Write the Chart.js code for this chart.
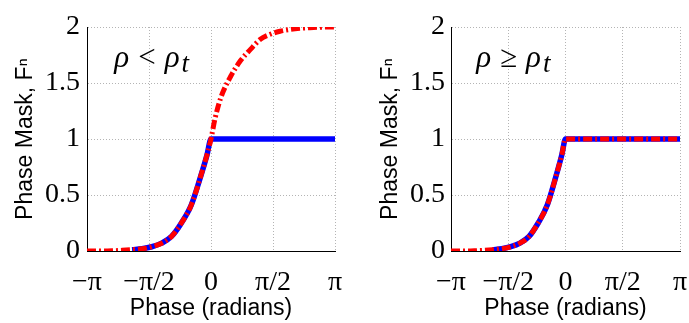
<!DOCTYPE html>
<html>
<head>
<meta charset="utf-8">
<script src="https://cdn.jsdelivr.net/npm/chart.js@4"></script>
<style>
  body { margin: 0; background: #fff; }
  .panel { position: absolute; top: 0; }
</style>
</head>
<body>
<div class="panel" style="left:0"><canvas id="maskLow" width="345" height="323"></canvas></div>
<div class="panel" style="left:345px"><canvas id="maskHigh" width="344" height="323"></canvas></div>
<script>
// phase samples (radians)
var phase = [-3.1416, -2.75, -2.5, -2.25, -2.0, -1.75, -1.5, -1.25, -1.0, -0.75, -0.5, -0.25, -0.1, 0,
             0.1, 0.25, 0.5, 0.75, 1.0, 1.25, 1.5, 1.75, 2.0, 2.25, 2.5, 2.75, 3.1416];

// smooth mask, keeps rising up to 2
var maskSmooth = [0, 0, 0.002, 0.006, 0.012, 0.02, 0.038, 0.07, 0.13, 0.25, 0.41, 0.68, 0.86, 1.0,
                  1.18, 1.37, 1.56, 1.70, 1.80, 1.89, 1.935, 1.962, 1.978, 1.988, 1.994, 1.998, 2.0];

// clipped mask, flat at 1 for positive phase
var maskClip = [0, 0, 0.002, 0.006, 0.012, 0.02, 0.038, 0.07, 0.13, 0.25, 0.41, 0.68, 0.86, 1.0,
                1, 1, 1, 1, 1, 1, 1, 1, 1, 1, 1, 1, 1];

// blue trace only starts near -2 rad
var clipStart = -2.0;

var phaseTicks = [-Math.PI, -Math.PI / 2, 0, Math.PI / 2, Math.PI];
var phaseTickLabels = ['\u2212\u03c0', '\u2212\u03c0/2', '0', '\u03c0/2', '\u03c0'];
var maskTicks = [0, 0.5, 1, 1.5, 2];
var maskTickLabels = ['0', '0.5', '1', '1.5', '2'];

function toPoints(ys, fromX) {
  return phase.map(function (x, i) {
    return { x: x, y: (fromX !== undefined && x < fromX) ? null : ys[i] };
  });
}

// draws the rho condition text in data coordinates
var rhoLabel = {
  id: 'rhoLabel',
  afterDatasetsDraw: function (chart, args, opts) {
    var ctx = chart.ctx;
    var x = chart.scales.x.getPixelForValue(opts.at[0]);
    var y = chart.scales.y.getPixelForValue(opts.at[1]);
    ctx.save();
    ctx.fillStyle = '#000';
    ctx.textBaseline = 'alphabetic';
    opts.parts.forEach(function (p) {
      x += p.gap || 0;
      ctx.font = p.font;
      ctx.fillText(p.text, x, y + (p.dy || 0));
      x += ctx.measureText(p.text).width;
    });
    ctx.restore();
  }
};

var gridColor = '#b4b4b4';
var tickFont = { family: '"Liberation Serif"', size: 28 };
var titleFont = { family: '"Liberation Sans"', size: 23 };

function makeChart(id, cfg) {
  return new Chart(document.getElementById(id), {
    type: 'line',
    data: {
      datasets: [{
        data: toPoints(cfg.red),
        borderColor: '#ff0000',
        borderWidth: 5,
        borderDash: [9, 3, 2, 3],
        borderCapStyle: 'butt',
        pointRadius: 0,
        cubicInterpolationMode: 'monotone'
      }, {
        data: toPoints(cfg.blue, clipStart),
        borderColor: '#0000ff',
        borderWidth: 5.5,
        pointRadius: 0,
        spanGaps: false,
        cubicInterpolationMode: 'monotone'
      }]
    },
    options: {
      responsive: false,
      animation: false,
      events: [],
      layout: { padding: { top: 27, right: cfg.padRight, left: 0, bottom: 0 } },
      plugins: {
        legend: { display: false },
        tooltip: { enabled: false },
        rhoLabel: { at: [-2.45, 1.64], parts: cfg.label }
      },
      scales: {
        x: {
          type: 'linear',
          min: -Math.PI,
          max: Math.PI,
          afterBuildTicks: function (scale) {
            scale.ticks = phaseTicks.map(function (v) { return { value: v }; });
          },
          afterFit: function (scale) {
            scale.height = 72;
            scale.paddingLeft = 0;
            scale.paddingRight = 0;
          },
          ticks: {
            autoSkip: false,
            maxRotation: 0,
            padding: 15,
            color: '#000',
            font: tickFont,
            callback: function (v, i) { return phaseTickLabels[i]; }
          },
          grid: { color: gridColor, lineWidth: 1, drawTicks: false },
          border: { display: true, color: '#000', width: 1, dash: [1, 2] },
          title: {
            display: true,
            text: 'Phase (radians)',
            color: '#000',
            font: titleFont,
            padding: { top: 0, bottom: 1 }
          }
        },
        y: {
          min: 0,
          max: 2,
          afterBuildTicks: function (scale) {
            scale.ticks = maskTicks.map(function (v) { return { value: v }; });
          },
          afterFit: function (scale) {
            scale.width = cfg.yWidth;
            scale.paddingTop = 0;
            scale.paddingBottom = 0;
          },
          ticks: {
            padding: cfg.yTickPad,
            color: '#000',
            font: tickFont,
            callback: function (v, i) { return maskTickLabels[i]; }
          },
          grid: { color: gridColor, lineWidth: 1, drawTicks: false },
          border: { display: true, color: '#000', width: 1, dash: [1, 2] },
          title: {
            display: true,
            text: 'Phase Mask, F\u207f',
            color: '#000',
            font: titleFont,
            padding: { top: cfg.yTitlePad, bottom: 0 }
          }
        }
      }
    },
    plugins: [rhoLabel]
  });
}

var ital = 'italic 31px "Liberation Serif"';
var roman = '31px "Liberation Serif"';
var sub = 'italic 27px "Liberation Serif"';

makeChart('maskLow', {
  red: maskSmooth,
  blue: maskClip,
  yWidth: 87,
  yTickPad: 7,
  yTitlePad: 12,
  padRight: 10,
  label: [
    { text: '\u03c1', font: ital },
    { text: '<', font: roman, gap: 9 },
    { text: '\u03c1', font: ital, gap: 9 },
    { text: 't', font: sub, dy: 5, gap: 2 }
  ]
});

makeChart('maskHigh', {
  red: maskClip,
  blue: maskClip,
  yWidth: 106,
  yTickPad: 6,
  yTitlePad: 32,
  padRight: 9,
  label: [
    { text: '\u03c1', font: ital },
    { text: '\u2265', font: roman, gap: 9 },
    { text: '\u03c1', font: ital, gap: 9 },
    { text: 't', font: sub, dy: 5, gap: 2 }
  ]
});
</script>
</body>
</html>
